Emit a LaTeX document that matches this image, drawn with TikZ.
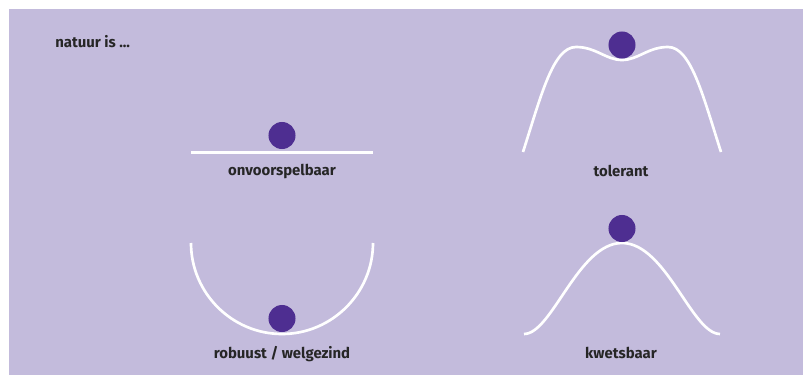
\documentclass[tikz,border=0pt]{standalone}
\usepackage{fontspec}
\setmainfont{Fira Sans}
\usepackage{xcolor}
\definecolor{lila}{RGB}{195,187,220}
\definecolor{paars}{RGB}{78,46,145}

\tikzset{
  bal/.style={circle,fill=paars,inner sep=0pt,minimum size=0.675cm},
  baan/.style={white,line width=1.9pt},
  label/.style={font=\bfseries\fontsize{10.6}{12}\selectfont,text=black!85}
}

\begin{document}
\begin{tikzpicture}[x=0.025cm,y=-0.025cm]
\useasboundingbox (0,0) rectangle (805,375);
\fill[lila] (9,9) rectangle (803,375);

\node[label,anchor=west,inner sep=0pt] (natuur) at (55,42) {natuur is ...};

% vlak
\draw[baan] (191,152.5) -- (373,152.5);
\node[bal] (bal1) at (282,135.5) {};
\node[label] (onvoorspelbaar) at (282,171) {onvoorspelbaar};

% twee toppen met een kuil
\draw[baan] (523,152) .. controls (541,96) and (553,47) .. (576,47)
  .. controls (596,47) and (606,60) .. (622,60)
  .. controls (638,60) and (648,47) .. (668,47)
  .. controls (691,47) and (703,96) .. (721,152);
\node[bal] (bal2) at (622,45) {};
\node[label] (tolerant) at (621,171) {tolerant};

% dal
\draw[baan] (191,243) .. controls (191,293) and (232,334) .. (282,334)
  .. controls (332,334) and (373,293) .. (373,243);
\node[bal] (bal3) at (282,318.5) {};
\node[label] (robuust) at (282,354) {robuust / welgezind};

% heuvel
\draw[baan] (524,334) .. controls (552,334) and (578,243) .. (622,243)
  .. controls (666,243) and (692,334) .. (720,334);
\node[bal] (bal4) at (622,228.5) {};
\node[label] (kwetsbaar) at (621,353) {kwetsbaar};

\end{tikzpicture}
\end{document}
